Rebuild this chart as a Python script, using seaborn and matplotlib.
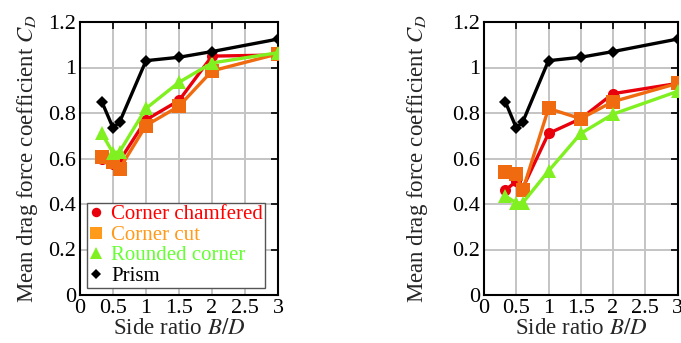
import numpy as np
import pandas as pd
import matplotlib
matplotlib.use("Agg")
import matplotlib.pyplot as plt
import seaborn as sns
from matplotlib.lines import Line2D

side_ratio = [0.33, 0.5, 0.6, 1.0, 1.5, 2.0, 3.0]
series_names = ["Corner chamfered", "Corner cut", "Rounded corner", "Prism"]

left_chamfered = [0.60, 0.575, 0.59, 0.77, 0.855, 1.05, 1.055]
left_cut = [0.605, 0.585, 0.555, 0.745, 0.83, 0.985, 1.06]
left_rounded = [0.71, 0.625, 0.63, 0.82, 0.935, 1.02, 1.065]
prism = [0.85, 0.735, 0.76, 1.03, 1.045, 1.07, 1.125]

right_chamfered = [0.46, 0.50, 0.47, 0.71, 0.775, 0.885, 0.93]
right_cut = [0.54, 0.53, 0.46, 0.82, 0.775, 0.85, 0.93]
right_rounded = [0.435, 0.405, 0.405, 0.545, 0.71, 0.795, 0.895]

x_ticks = [0, 0.5, 1, 1.5, 2, 2.5, 3]
x_ticklabels = ["0", "0.5", "1", "1.5", "2", "2.5", "3"]
y_ticks = [0, 0.2, 0.4, 0.6, 0.8, 1.0, 1.2]
y_ticklabels = ["0", "0.2", "0.4", "0.6", "0.8", "1", "1.2"]

colors = {"Corner chamfered": "#e8000c", "Corner cut": "#f06a10",
          "Rounded corner": "#80f020", "Prism": "#000000"}
text_colors = {"Corner chamfered": "#ff0000", "Corner cut": "#ff9a1a",
               "Rounded corner": "#66ff33", "Prism": "#000000"}
markers = {"Corner chamfered": "o", "Corner cut": "s",
           "Rounded corner": "^", "Prism": "D"}
msizes = {"Corner chamfered": 8, "Corner cut": 9.5, "Rounded corner": 9.5, "Prism": 6.5}

sns.set_theme(style="white")
plt.rcParams["font.family"] = ["Liberation Serif", "DejaVu Serif"]
plt.rcParams["mathtext.fontset"] = "stix"

def make_df(ch, cu, ro, pr):
    rows = []
    for name, vals in zip(series_names, [ch, cu, ro, pr]):
        for x, y in zip(side_ratio, vals):
            rows.append({"B/D": x, "CD": y, "series": name})
    return pd.DataFrame(rows)

fig = plt.figure(figsize=(6.81, 3.43), dpi=100)
ax1 = fig.add_axes([80/681, 1-295/343, 198/681, 273/343])
ax2 = fig.add_axes([484/681, 1-295/343, 193.5/681, 273/343])

for ax, df, lp in [(ax1, make_df(left_chamfered, left_cut, left_rounded, prism), 6),
                   (ax2, make_df(right_chamfered, right_cut, right_rounded, prism), 16)]:
    for i, name in enumerate(series_names):
        sub = df[df["series"] == name]
        sns.lineplot(data=sub, x="B/D", y="CD", ax=ax, color=colors[name],
                     marker=markers[name], markersize=msizes[name],
                     markeredgewidth=0, linewidth=2.4, zorder=3 + i,
                     legend=False, estimator=None, sort=False)
    ax.set_xlim(0, 3)
    ax.set_ylim(0, 1.2)
    ax.set_xticks(x_ticks)
    ax.set_xticklabels(x_ticklabels)
    ax.set_yticks(y_ticks)
    ax.set_yticklabels(y_ticklabels)
    ax.grid(True, color="#c4c4c4", linewidth=1.4, zorder=0)
    ax.set_axisbelow(True)
    ax.tick_params(direction="in", length=5, width=1.2, top=True, right=True,
                   labelsize=16, pad=3, colors="black")
    for s in ax.spines.values():
        s.set_color("black")
        s.set_linewidth(1.5)
    ax.set_xlabel("Side ratio $B/D$", fontsize=16.5, labelpad=0)
    ax.set_ylabel("Mean drag force coefficient $C_D$", fontsize=16.5, labelpad=lp)

handles = [Line2D([], [], linestyle="none", marker=markers[n], color=colors[n] if n != "Corner cut" else "#ff9a1a",
                  markersize=msizes[n] * 0.85, markeredgewidth=0) for n in series_names]
leg = ax1.legend(handles, series_names, loc="lower left", bbox_to_anchor=(0.035, 0.025),
                 fontsize=15, frameon=True, fancybox=False, edgecolor="#555555",
                 framealpha=1, handlelength=0.7, handletextpad=0.35, borderpad=0.1,
                 labelspacing=0.05, borderaxespad=0)
leg.get_frame().set_linewidth(1.0)
for t, n in zip(leg.get_texts(), series_names):
    t.set_color(text_colors[n])

fig.savefig("out.png", dpi=100)
